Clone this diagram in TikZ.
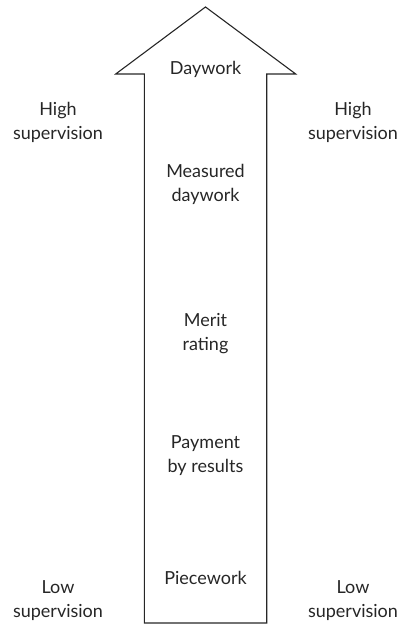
\documentclass[tikz,border=0pt]{standalone}
\usepackage{fontspec}
\setmainfont{Lato}
\begin{document}
\begin{tikzpicture}[x=1pt,y=-1pt,
  lbl/.style={align=center,font=\fontsize{18}{24}\selectfont,text=black!85,inner sep=0pt},
  arrowshape/.style={draw=black!85,line width=1.1pt,line join=miter}]
\useasboundingbox (0,0) rectangle (404,628);
\draw[arrowshape] (205.5,7) coordinate (tip) -- (295.7,74) -- (266.7,74) -- (266.7,623) -- (144.3,623) -- (144.3,74) -- (115.7,74) -- cycle;
\node[lbl] (d1) at (205.5,69) {Daywork};
\node[lbl] (d2) at (205.5,184) {Measured\\daywork};
\node[lbl] (d3) at (205.5,334) {Merit\\rating};
\node[lbl] (d4) at (205.5,456) {Payment\\by results};
\node[lbl] (d5) at (205.5,578) {Piecework};
\node[lbl] (hl) at (58,122) {High\\supervision};
\node[lbl] (hr) at (353,122) {High\\supervision};
\node[lbl] (ll) at (58,601) {Low\\supervision};
\node[lbl] (lr) at (353,601) {Low\\supervision};
\end{tikzpicture}
\end{document}
